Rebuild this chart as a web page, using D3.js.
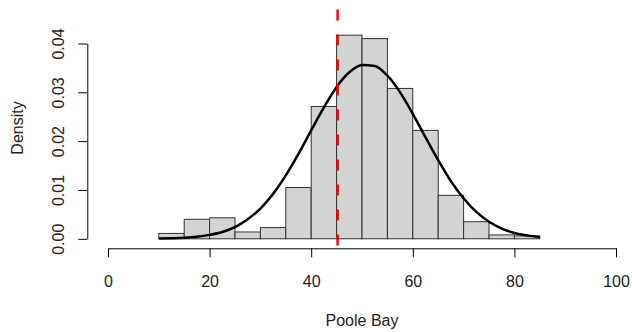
<!DOCTYPE html>
<html>
<head>
<meta charset="utf-8">
<script src="https://cdn.jsdelivr.net/npm/d3@7"></script>
<style>
  body { margin: 0; background: #fff; }
  text { font-family: "Liberation Sans", Arial, sans-serif; fill: #222; }
</style>
</head>
<body>
<svg id="chart" width="632" height="332"></svg>
<script>

// histogram breaks and bar densities
var breaks = [10, 15, 20, 25, 30, 35, 40, 45, 50, 55, 60, 65, 70, 75, 80, 85];
var densities = [0.0011, 0.0040, 0.0043, 0.0014, 0.0023, 0.0105, 0.0271, 0.0417,
                 0.0410, 0.0308, 0.0222, 0.0089, 0.0035, 0.0008, 0.0006];

// fitted density curve
var curveX = [10, 12.5, 15, 17.5, 20, 22.5, 25, 27.5, 30, 32.5, 35, 37.5, 40, 42.5,
              45, 47.5, 50, 52.5, 55, 57.5, 60, 62.5, 65, 67.5, 70, 72.5, 75, 77.5,
              80, 82.5, 85];
var curveY = [0.00004, 0.0001, 0.0002, 0.0004, 0.0008, 0.0014, 0.0024, 0.0040,
              0.0062, 0.0092, 0.0130, 0.0174, 0.0222, 0.0269, 0.0311, 0.0341,
              0.0356, 0.0354, 0.0334, 0.0300, 0.0256, 0.0208, 0.0161, 0.0118,
              0.0083, 0.0055, 0.0035, 0.0021, 0.0012, 0.0007, 0.0003];

// vertical marker
var markerValue = 45.2;

var xTicks = [0, 20, 40, 60, 80, 100];
var yTicks = [0, 0.01, 0.02, 0.03, 0.04];
var xTitle = "Poole Bay";
var yTitle = "Density";

var svg = d3.select("#chart");

var xScale = d3.scaleLinear()
    .domain([0, 100])
    .range([108, 616]);

var yScale = d3.scaleLinear()
    .domain([0, 0.04])
    .range([238.8, 43.5]);

var plotBottom = 248.3;
var plotLeft = 87.3;

var bins = densities.map(function(d, i) {
    return { x0: breaks[i], x1: breaks[i + 1], density: d };
});

svg.append("g")
    .selectAll("rect")
    .data(bins)
    .enter()
    .append("rect")
    .attr("x", d => xScale(d.x0))
    .attr("y", d => yScale(d.density))
    .attr("width", d => xScale(d.x1) - xScale(d.x0))
    .attr("height", d => yScale(0) - yScale(d.density))
    .attr("fill", "#d3d3d3")
    .attr("stroke", "#333")
    .attr("stroke-width", 1);

// density curve
var line = d3.line()
    .x(d => xScale(d[0]))
    .y(d => yScale(d[1]))
    .curve(d3.curveMonotoneX);

svg.append("path")
    .datum(curveX.map((x, i) => [x, curveY[i]]))
    .attr("d", line)
    .attr("fill", "none")
    .attr("stroke", "#000")
    .attr("stroke-width", 2.5);

// red dashed line
svg.append("line")
    .attr("x1", xScale(markerValue))
    .attr("x2", xScale(markerValue))
    .attr("y1", 9.5)
    .attr("y2", plotBottom)
    .attr("stroke", "#ff0000")
    .attr("stroke-width", 2.5)
    .attr("stroke-dasharray", "11,14");

// x axis
var bottomAxis = d3.axisBottom(xScale)
    .tickValues(xTicks)
    .tickSize(9)
    .tickSizeOuter(0)
    .tickFormat(d3.format("d"));

var xAxis = svg.append("g")
    .attr("transform", `translate(0, ${plotBottom})`)
    .call(bottomAxis);

xAxis.selectAll(".tick text")
    .attr("y", 38.5)
    .attr("dy", 0)
    .style("font-size", "16px");

// y axis
var leftAxis = d3.axisLeft(yScale)
    .tickValues(yTicks)
    .tickSize(9)
    .tickSizeOuter(0)
    .tickFormat(d3.format(".2f"));

var yAxis = svg.append("g")
    .attr("transform", `translate(${plotLeft}, 0)`)
    .call(leftAxis);

yAxis.selectAll(".tick text")
    .attr("transform", "rotate(-90)")
    .attr("x", 0)
    .attr("y", -23.5)
    .attr("dy", 0)
    .attr("text-anchor", "middle")
    .style("font-size", "16px");

svg.selectAll(".domain, .tick line")
    .attr("stroke", "#000");

// axis titles
svg.append("text")
    .attr("x", xScale(50))
    .attr("y", 326)
    .attr("text-anchor", "middle")
    .style("font-size", "16px")
    .text(xTitle);

svg.append("text")
    .attr("transform", "translate(23, 128) rotate(-90)")
    .attr("text-anchor", "middle")
    .style("font-size", "16px")
    .text(yTitle);

</script>
</body>
</html>
